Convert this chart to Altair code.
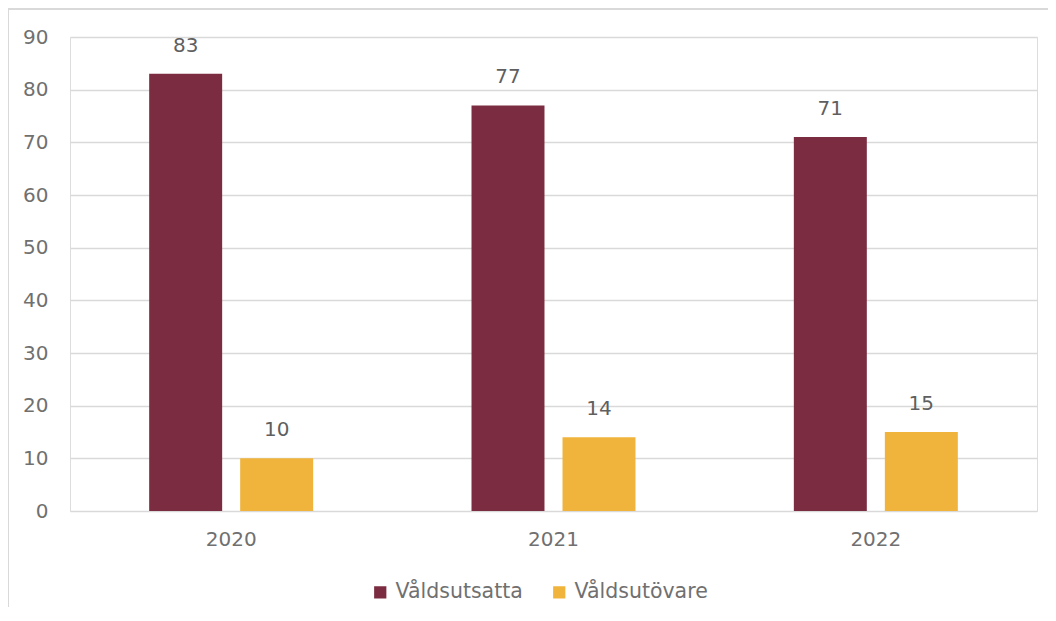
import altair as alt
import pandas as pd

years = ["2020", "2021", "2022"]
series = ["Våldsutsatta", "Våldsutövare"]
utsatta = [83, 77, 71]
utovare = [10, 14, 15]
colors = ["#7B2C41", "#F0B43C"]

rows = []
for i, y in enumerate(years):
    rows.append({"year": y, "serie": series[0], "value": utsatta[i]})
    rows.append({"year": y, "serie": series[1], "value": utovare[i]})
df = pd.DataFrame(rows)

FONT = "DejaVu Sans"
TXT = "#707070"
GRID = "#d9d9d9"

base = alt.Chart(df).encode(
    x=alt.X("year:N", sort=years, title=None,
            scale=alt.Scale(paddingInner=0, paddingOuter=0),
            axis=alt.Axis(labelAngle=0, ticks=False, domain=False, labelPadding=18,
                          labelFontSize=20, labelColor=TXT, labelFont=FONT, grid=False)),
    xOffset=alt.XOffset("serie:N", sort=series,
                        scale=alt.Scale(paddingInner=0.198, paddingOuter=0.87)),
)

bars = base.mark_bar().encode(
    y=alt.Y("value:Q", title=None,
            scale=alt.Scale(domain=[0, 90], nice=False),
            axis=alt.Axis(values=list(range(0, 100, 10)), ticks=False, domain=False,
                          labelPadding=22, labelFontSize=20, labelColor=TXT, labelFont=FONT,
                          gridColor=GRID, gridWidth=1.5)),
    color=alt.Color("serie:N", sort=series,
                    scale=alt.Scale(domain=series, range=colors),
                    legend=alt.Legend(title=None, orient="none", direction="horizontal",
                                      legendX=300, legendY=545,
                                      symbolType="square", symbolSize=150,
                                      symbolStrokeWidth=0, labelLimit=400,
                                      labelFontSize=20.5, labelColor=TXT, labelFont=FONT,
                                      labelOffset=5, columnPadding=26)),
)

labels = base.mark_text(font=FONT, fontSize=20, color="#5f5f5f", baseline="middle", dy=-28).encode(
    y=alt.Y("value:Q"),
    text=alt.Text("value:Q"),
)

frame_left = alt.Chart(df).mark_rule(color=GRID, strokeWidth=2, clip=False).encode(
    x=alt.value(-62), y=alt.value(-28), y2=alt.value(584)
)
frame_top = alt.Chart(df).mark_rule(color=GRID, strokeWidth=2, clip=False).encode(
    x=alt.value(-62), x2=alt.value(990), y=alt.value(-28)
)

chart = alt.layer(frame_left, frame_top, bars, labels).properties(
    width=967, height=474,
    padding={"left": 62, "top": 29, "right": 11, "bottom": 96},
    autosize=alt.AutoSizeParams(type="none"),
).configure_view(stroke=None).configure(background="white")

chart.save("out.html", embed_options={"renderer": "svg", "actions": False})
